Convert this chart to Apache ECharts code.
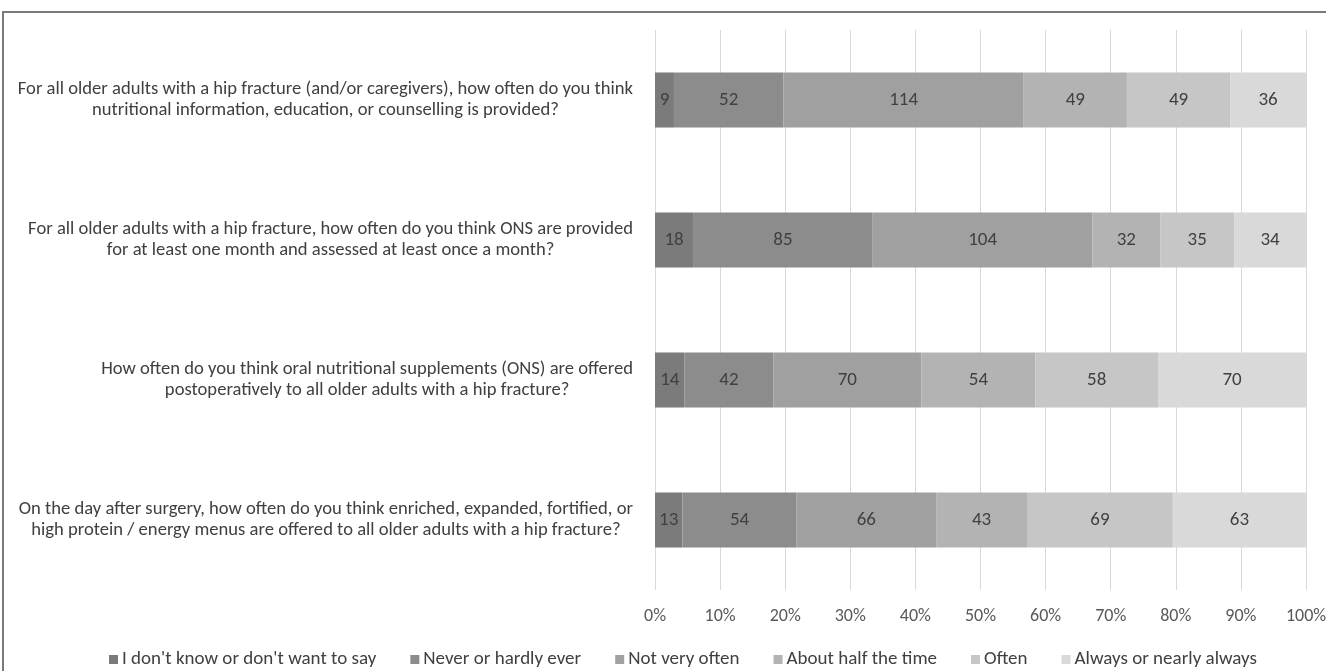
<!DOCTYPE html>
<html>
<head>
<meta charset="utf-8">
<script src="https://cdn.jsdelivr.net/npm/echarts@6/dist/echarts.min.js"></script>
<style>
html,body{margin:0;padding:0;background:#fff;}
#chart{width:1326px;height:671px;}
</style>
</head>
<body>
<div id="chart"></div>
<script>
const categories = [
  "For all older adults with a hip fracture (and/or caregivers), how often do you think\nnutritional information, education, or counselling is provided?",
  "For all older adults with a hip fracture, how often do you think ONS are provided\nfor at least one month and assessed at least once a month?",
  "How often do you think oral nutritional supplements (ONS) are offered\npostoperatively to all older adults with a hip fracture?",
  "On the day after surgery, how often do you think enriched, expanded, fortified, or\nhigh protein / energy menus are offered to all older adults with a hip fracture?"
];
const seriesNames = ["I don't know or don't want to say", "Never or hardly ever", "Not very often", "About half the time", "Often", "Always or nearly always"];
const dontKnow = [9, 18, 14, 13];
const never = [52, 85, 42, 54];
const notOften = [114, 104, 70, 66];
const halfTime = [49, 32, 54, 43];
const often = [49, 35, 58, 69];
const always = [36, 34, 70, 63];
const xTicks = [0, 10, 20, 30, 40, 50, 60, 70, 80, 90, 100];

const colors = ['#7b7b7b', '#8c8c8c', '#a0a0a0', '#b3b3b3', '#c6c6c6', '#d9d9d9'];
const allSeries = [dontKnow, never, notOften, halfTime, often, always];
const totals = categories.map((c, i) => allSeries.reduce((s, arr) => s + arr[i], 0));
const FONT = "Carlito, 'Liberation Sans Narrow', 'Noto Sans', sans-serif";

const chart = echarts.init(document.getElementById('chart'));
chart.setOption({
  animation: false,
  textStyle: {fontFamily: FONT},
  grid: {left: 655, right: 20, top: 30, bottom: 81, containLabel: false, outerBoundsMode: 'none'},
  graphic: [{
    type: 'rect', silent: true, z: 100,
    shape: {x: 3, y: 12, width: 1340, height: 680},
    style: {fill: 'none', stroke: '#7a7a7a', lineWidth: 2}
  }],
  legend: {
    top: 645, left: 104,
    itemWidth: 9, itemHeight: 9, itemGap: 34,
    icon: 'rect',
    textStyle: {fontFamily: FONT, fontSize: 19, color: '#404040', padding: [0, 0, 0, -1]},
    data: seriesNames
  },
  xAxis: {
    type: 'value', min: 0, max: 100, interval: 10,
    axisLine: {show: false}, axisTick: {show: false},
    splitLine: {lineStyle: {color: '#d9d9d9', width: 1}},
    axisLabel: {
      formatter: v => xTicks.includes(v) ? v + '%' : '',
      color: '#595959', fontSize: 18, fontFamily: FONT, margin: 17
    }
  },
  yAxis: {
    type: 'category', inverse: true, data: categories,
    axisLine: {show: false}, axisTick: {show: false},
    axisLabel: {
      color: '#404040', fontSize: 18.6, fontFamily: FONT, margin: 22, align: 'right',
      formatter: v => v.split('\n').map(l => '{c|' + l + '}').join('\n'),
      rich: {c: {align: 'center', fontSize: 18.6, fontFamily: FONT, color: '#404040', lineHeight: 21}}
    }
  },
  series: allSeries.map((arr, si) => ({
    name: seriesNames[si],
    type: 'bar', stack: 'total', barWidth: 55,
    itemStyle: {color: colors[si]},
    label: {
      show: true, position: 'inside', color: '#404040', fontSize: 19, fontFamily: FONT,
      formatter: p => String(arr[p.dataIndex])
    },
    data: arr.map((v, i) => v / totals[i] * 100)
  }))
});
</script>
</body>
</html>
